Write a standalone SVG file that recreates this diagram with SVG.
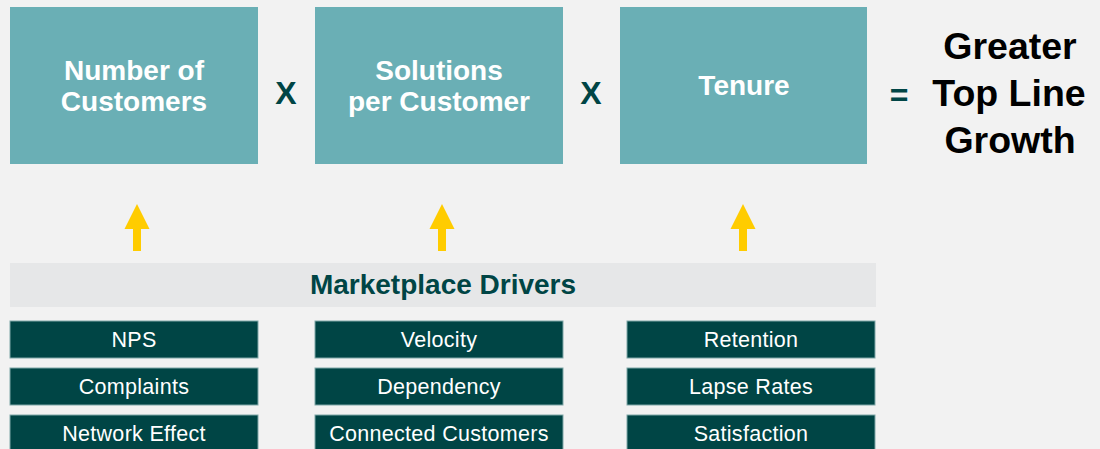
<svg xmlns="http://www.w3.org/2000/svg" width="1100" height="449" viewBox="0 0 1100 449">
<style>
.top{fill:#6aafb5}
.tt{font-family:"Liberation Sans",Arial,sans-serif;font-weight:bold;font-size:28px;fill:#ffffff;text-anchor:middle}
.op{font-family:"Liberation Sans",Arial,sans-serif;font-weight:bold;font-size:32px;fill:#004545;text-anchor:middle}
.res{font-family:"Liberation Sans",Arial,sans-serif;font-weight:bold;font-size:37.5px;fill:#000000;text-anchor:middle}
.drv{fill:#004545;stroke:#7fa7a8;stroke-width:1}
.dt{font-family:"Liberation Sans",Arial,sans-serif;font-size:21.5px;letter-spacing:0.3px;fill:#ffffff;text-anchor:middle}
.arr{fill:#ffcc00}
</style>
<rect x="0" y="0" width="1100" height="449" fill="#f2f2f2"/>
<g id="number-of-customers">
<rect class="top" x="10" y="7" width="248" height="157"/>
<text class="tt" x="134" y="80">Number of</text>
<text class="tt" x="134" y="111">Customers</text>
</g>
<g id="solutions-per-customer">
<rect class="top" x="315" y="7" width="248" height="157"/>
<text class="tt" x="439" y="80">Solutions</text>
<text class="tt" x="439" y="111">per Customer</text>
</g>
<g id="tenure">
<rect class="top" x="620" y="7" width="247" height="157"/>
<text class="tt" x="744" y="95">Tenure</text>
</g>
<g id="operators">
<text class="op" x="286" y="104">X</text>
<text class="op" x="591" y="104">X</text>
<text class="op" x="899" y="106" font-size="38">=</text>
</g>
<g id="result">
<text class="res" x="1010" y="59">Greater</text>
<text class="res" x="1009" y="106">Top Line</text>
<text class="res" x="1010" y="153">Growth</text>
</g>
<g id="connectors">
<polygon class="arr" points="137,204 149.5,229 141,229 141,251 133,251 133,229 124.5,229"/>
<polygon class="arr" points="442,204 454.5,229 446,229 446,251 438,251 438,229 429.5,229"/>
<polygon class="arr" points="743,204 755.5,229 747,229 747,251 739,251 739,229 730.5,229"/>
</g>
<g id="marketplace-drivers">
<rect x="10" y="263" width="866" height="44" fill="#e6e7e8"/>
<text x="443" y="294" font-family="Liberation Sans, Arial, sans-serif" font-weight="bold" font-size="28" fill="#004545" text-anchor="middle">Marketplace Drivers</text>
</g>
<g id="nps"><rect class="drv" x="10" y="321" width="248" height="37"/><text class="dt" x="134" y="347">NPS</text></g>
<g id="complaints"><rect class="drv" x="10" y="368" width="248" height="37"/><text class="dt" x="134" y="394">Complaints</text></g>
<g id="network-effect"><rect class="drv" x="10" y="415" width="248" height="40"/><text class="dt" x="134" y="441">Network Effect</text></g>
<g id="velocity"><rect class="drv" x="315" y="321" width="248" height="37"/><text class="dt" x="439" y="347">Velocity</text></g>
<g id="dependency"><rect class="drv" x="315" y="368" width="248" height="37"/><text class="dt" x="439" y="394">Dependency</text></g>
<g id="connected-customers"><rect class="drv" x="315" y="415" width="248" height="40"/><text class="dt" x="439" y="441">Connected Customers</text></g>
<g id="retention"><rect class="drv" x="627" y="321" width="248" height="37"/><text class="dt" x="751" y="347">Retention</text></g>
<g id="lapse-rates"><rect class="drv" x="627" y="368" width="248" height="37"/><text class="dt" x="751" y="394">Lapse Rates</text></g>
<g id="satisfaction"><rect class="drv" x="627" y="415" width="248" height="40"/><text class="dt" x="751" y="441">Satisfaction</text></g>
</svg>
